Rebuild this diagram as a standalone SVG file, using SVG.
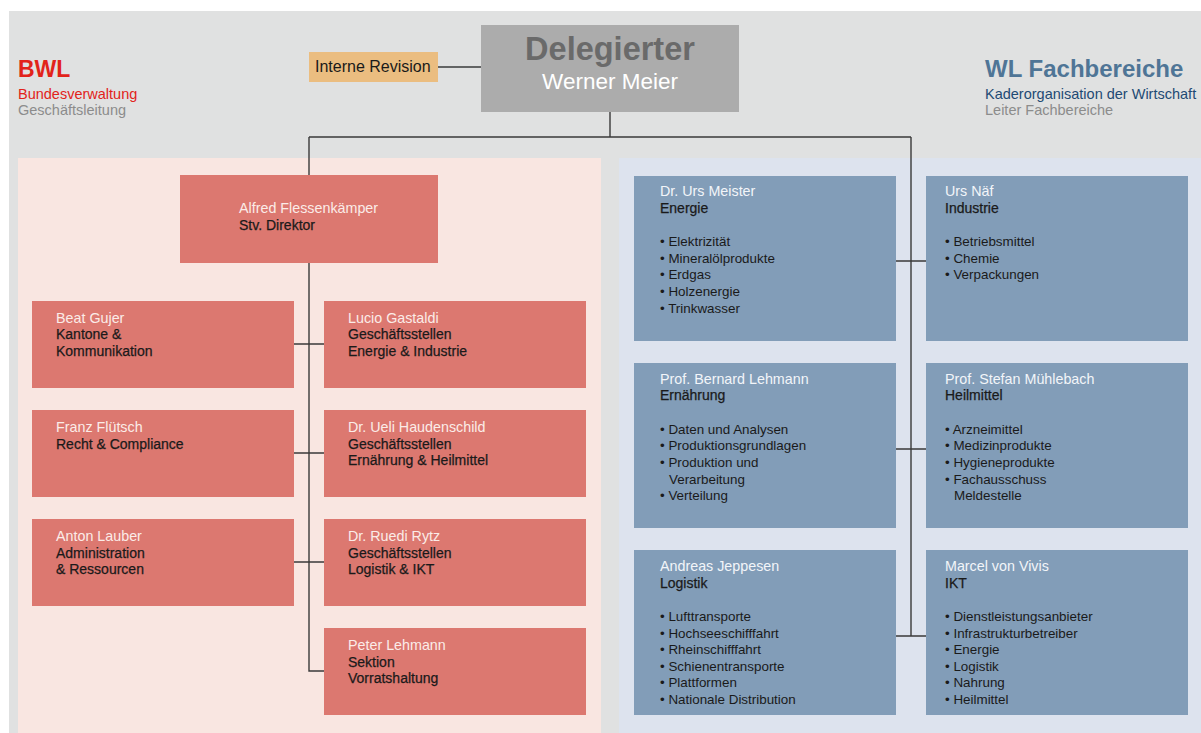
<svg xmlns="http://www.w3.org/2000/svg" width="1201" height="733" viewBox="0 0 1201 733">
<style>
text{font-family:"Liberation Sans",Arial,sans-serif;font-size:14px;fill:#1a1a1a}
.pb{fill:#dc7870}
.bb{fill:#829db8}
.nm{fill:#fbece8;font-size:14.3px}
.bn{fill:#f2f5f9;font-size:14.3px}
.rl{stroke:#1a1a1a;stroke-width:0.25}
.bl{font-size:13.4px}
.ln{stroke:#3a3a3a;stroke-width:1.4;fill:none}
.hd{font-weight:bold;font-size:23px}
.sub{font-size:14.5px}
</style>
<rect x="0" y="0" width="1201" height="733" fill="#ffffff"/>
<rect x="9" y="11" width="1192" height="722" fill="#e0e1e1"/>
<rect x="18" y="158" width="583" height="575" fill="#f9e6e1"/>
<rect x="619" y="158" width="582" height="575" fill="#dde3ee"/>

<g id="header-bwl">
<text x="18" y="77" class="hd" style="fill:#e2231a">BWL</text>
<text x="18" y="99" class="sub" style="fill:#e2231a">Bundesverwaltung</text>
<text x="18" y="115" class="sub" style="fill:#8c8c8c">Geschäftsleitung</text>
</g>
<g id="header-wl">
<text x="985" y="77" class="hd" style="fill:#4f7596;font-size:24px">WL Fachbereiche</text>
<text x="985" y="99" class="sub" style="fill:#1e4a74">Kaderorganisation der Wirtschaft</text>
<text x="985" y="115" class="sub" style="fill:#8c8c8c">Leiter Fachbereiche</text>
</g>

<g id="connectors">
<path class="ln" d="M438 67H481"/>
<path class="ln" d="M610 112V137M309 137H911M309 137V175M911 137V636"/>
<path class="ln" d="M309 263V671H324"/>
<path class="ln" d="M294 344H324M294 453H324M294 562H324"/>
<path class="ln" d="M896 261H926M896 449H926M896 636H926"/>
</g>

<g id="delegierter">
<rect x="481" y="25" width="258" height="87" fill="#acacac"/>
<text x="610" y="60" text-anchor="middle" style="font-weight:bold;font-size:32.5px;fill:#6a6a6a">Delegierter</text>
<text x="610" y="89" text-anchor="middle" style="font-size:22.5px;fill:#ffffff">Werner Meier</text>
</g>
<g id="interne-revision">
<rect x="309" y="52" width="129" height="30" fill="#ebbd80"/>
<text x="315" y="72" style="font-size:16px">Interne Revision</text>
</g>

<g id="flessenkaemper">
<rect class="pb" x="180" y="175" width="258" height="88"/>
<text x="239" y="213" class="nm">Alfred Flessenkämper</text>
<text x="239" y="230" class="rl">Stv. Direktor</text>
</g>
<g id="gujer">
<rect class="pb" x="32" y="301" width="262" height="87"/>
<text x="56" y="323" class="nm">Beat Gujer</text>
<text x="56" y="339" class="rl">Kantone &amp;</text>
<text x="56" y="356" class="rl">Kommunikation</text>
</g>
<g id="gastaldi">
<rect class="pb" x="324" y="301" width="262" height="87"/>
<text x="348" y="323" class="nm">Lucio Gastaldi</text>
<text x="348" y="339" class="rl">Geschäftsstellen</text>
<text x="348" y="356" class="rl">Energie &amp; Industrie</text>
</g>
<g id="fluetsch">
<rect class="pb" x="32" y="410" width="262" height="87"/>
<text x="56" y="432" class="nm">Franz Flütsch</text>
<text x="56" y="449" class="rl">Recht &amp; Compliance</text>
</g>
<g id="haudenschild">
<rect class="pb" x="324" y="410" width="262" height="87"/>
<text x="348" y="432" class="nm">Dr. Ueli Haudenschild</text>
<text x="348" y="449" class="rl">Geschäftsstellen</text>
<text x="348" y="465" class="rl">Ernährung &amp; Heilmittel</text>
</g>
<g id="lauber">
<rect class="pb" x="32" y="519" width="262" height="87"/>
<text x="56" y="541" class="nm">Anton Lauber</text>
<text x="56" y="558" class="rl">Administration</text>
<text x="56" y="574" class="rl">&amp; Ressourcen</text>
</g>
<g id="rytz">
<rect class="pb" x="324" y="519" width="262" height="87"/>
<text x="348" y="541" class="nm">Dr. Ruedi Rytz</text>
<text x="348" y="558" class="rl">Geschäftsstellen</text>
<text x="348" y="574" class="rl">Logistik &amp; IKT</text>
</g>
<g id="lehmann-peter">
<rect class="pb" x="324" y="628" width="262" height="87"/>
<text x="348" y="650" class="nm">Peter Lehmann</text>
<text x="348" y="667" class="rl">Sektion</text>
<text x="348" y="683" class="rl">Vorratshaltung</text>
</g>

<g id="meister">
<rect class="bb" x="634" y="176" width="262" height="165"/>
<text x="660" y="196" class="bn">Dr. Urs Meister</text>
<text x="660" y="213" class="rl">Energie</text>
<text x="660" y="246" class="bl">• Elektrizität</text>
<text x="660" y="263" class="bl">• Mineralölprodukte</text>
<text x="660" y="279" class="bl">• Erdgas</text>
<text x="660" y="296" class="bl">• Holzenergie</text>
<text x="660" y="313" class="bl">• Trinkwasser</text>
</g>
<g id="naef">
<rect class="bb" x="926" y="176" width="262" height="165"/>
<text x="945" y="196" class="bn">Urs Näf</text>
<text x="945" y="213" class="rl">Industrie</text>
<text x="945" y="246" class="bl">• Betriebsmittel</text>
<text x="945" y="263" class="bl">• Chemie</text>
<text x="945" y="279" class="bl">• Verpackungen</text>
</g>
<g id="lehmann-bernard">
<rect class="bb" x="634" y="363" width="262" height="165"/>
<text x="660" y="384" class="bn">Prof. Bernard Lehmann</text>
<text x="660" y="400" class="rl">Ernährung</text>
<text x="660" y="434" class="bl">• Daten und Analysen</text>
<text x="660" y="450" class="bl">• Produktionsgrundlagen</text>
<text x="660" y="467" class="bl">• Produktion und</text>
<text x="669" y="484" class="bl">Verarbeitung</text>
<text x="660" y="500" class="bl">• Verteilung</text>
</g>
<g id="muehlebach">
<rect class="bb" x="926" y="363" width="262" height="165"/>
<text x="945" y="384" class="bn">Prof. Stefan Mühlebach</text>
<text x="945" y="400" class="rl">Heilmittel</text>
<text x="945" y="434" class="bl">• Arzneimittel</text>
<text x="945" y="450" class="bl">• Medizinprodukte</text>
<text x="945" y="467" class="bl">• Hygieneprodukte</text>
<text x="945" y="484" class="bl">• Fachausschuss</text>
<text x="954" y="500" class="bl">Meldestelle</text>
</g>
<g id="jeppesen">
<rect class="bb" x="634" y="550" width="262" height="165"/>
<text x="660" y="571" class="bn">Andreas Jeppesen</text>
<text x="660" y="588" class="rl">Logistik</text>
<text x="660" y="621" class="bl">• Lufttransporte</text>
<text x="660" y="638" class="bl">• Hochseeschifffahrt</text>
<text x="660" y="654" class="bl">• Rheinschifffahrt</text>
<text x="660" y="671" class="bl">• Schienentransporte</text>
<text x="660" y="687" class="bl">• Plattformen</text>
<text x="660" y="704" class="bl">• Nationale Distribution</text>
</g>
<g id="vivis">
<rect class="bb" x="926" y="550" width="262" height="165"/>
<text x="945" y="571" class="bn">Marcel von Vivis</text>
<text x="945" y="588" class="rl">IKT</text>
<text x="945" y="621" class="bl">• Dienstleistungsanbieter</text>
<text x="945" y="638" class="bl">• Infrastrukturbetreiber</text>
<text x="945" y="654" class="bl">• Energie</text>
<text x="945" y="671" class="bl">• Logistik</text>
<text x="945" y="687" class="bl">• Nahrung</text>
<text x="945" y="704" class="bl">• Heilmittel</text>
</g>
</svg>
